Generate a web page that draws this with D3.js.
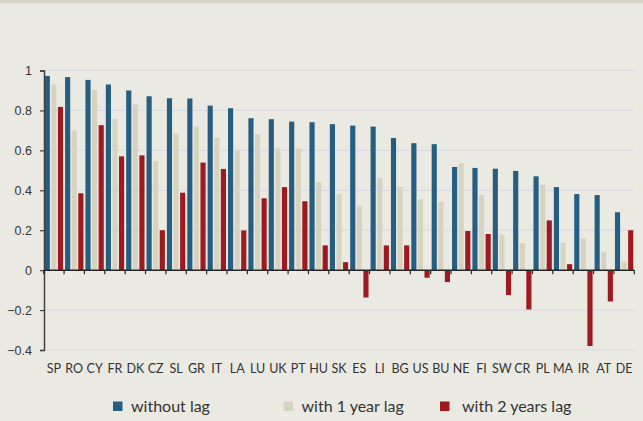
<!DOCTYPE html>
<html>
<head>
<meta charset="utf-8">
<script src="https://cdn.jsdelivr.net/npm/d3@7"></script>
<style>
    body { margin: 0; background: #ebeae2; }
    svg { display: block; font-family: Lato, "Open Sans", sans-serif; }
</style>
</head>
<body>
<svg id="chart"></svg>
<script>
const countries = ["SP", "RO", "CY", "FR", "DK", "CZ", "SL", "GR", "IT", "LA", "LU", "UK", "PT", "HU", "SK",
    "ES", "LI", "BG", "US", "BU", "NE", "FI", "SW", "CR", "PL", "MA", "IR", "AT", "DE"];

const withoutLag = [0.973, 0.967, 0.953, 0.930, 0.900, 0.871, 0.861, 0.860, 0.824, 0.811, 0.761, 0.756, 0.744, 0.741, 0.731,
    0.724, 0.719, 0.662, 0.636, 0.631, 0.517, 0.512, 0.508, 0.497, 0.470, 0.416, 0.381, 0.376, 0.290];
const oneYearLag = [0.930, 0.699, 0.903, 0.758, 0.830, 0.547, 0.684, 0.719, 0.662, 0.599, 0.681, 0.610, 0.609, 0.441, 0.383,
    0.323, 0.463, 0.418, 0.355, 0.341, 0.535, 0.376, 0.179, 0.135, 0.428, 0.137, 0.159, 0.092, 0.042];
const twoYearsLag = [0.818, 0.385, 0.726, 0.570, 0.575, 0.200, 0.388, 0.539, 0.507, 0.199, 0.360, 0.416, 0.345, 0.124, 0.040,
    -0.137, 0.124, 0.124, -0.038, -0.060, 0.196, 0.181, -0.125, -0.197, 0.249, 0.030, -0.380, -0.157, 0.200];

const seriesNames = ["without lag", "with 1 year lag", "with 2 years lag"];
const seriesColors = ["#255e82", "#d7d3c1", "#9d1b20"];
const yTicks = [-0.4, -0.2, 0, 0.2, 0.4, 0.6, 0.8, 1];

const width = 643, height = 421;

const svg = d3.select("#chart")
    .attr("width", width)
    .attr("height", height);

// background and top strip
svg.append("rect").attr("width", width).attr("height", height).attr("fill", "#ebeae2");
svg.append("rect").attr("width", width).attr("height", 3).attr("fill", "#d6d3c0");

const x0 = d3.scaleBand()
    .domain(countries)
    .range([43.7, 634.3])
    .paddingInner(0.1)
    .paddingOuter(0.05);

const x1 = d3.scaleBand()
    .domain(d3.range(3))
    .range([0, x0.bandwidth()])
    .paddingInner(0.22);

const y = d3.scaleLinear()
    .domain([-0.4, 1])
    .range([350, 70.5]);

// gridlines
svg.append("g")
    .selectAll("line")
    .data(yTicks.filter(d => d !== 0))
    .enter()
    .append("line")
    .attr("x1", 44)
    .attr("x2", 634)
    .attr("y1", d => y(d))
    .attr("y2", d => y(d))
    .attr("stroke", "#dcdbe2")
    .attr("stroke-width", 1.2);

// bars
const rows = countries.map((c, i) => ({c: c, vals: [withoutLag[i], oneYearLag[i], twoYearsLag[i]]}));

const groups = svg.append("g")
    .selectAll("g")
    .data(rows)
    .enter()
    .append("g")
    .attr("transform", d => "translate(" + x0(d.c) + ",0)");

groups.selectAll("rect")
    .data(d => d.vals.map((v, k) => ({k: k, v: v})))
    .enter()
    .append("rect")
    .attr("x", d => x1(d.k))
    .attr("width", x1.bandwidth())
    .attr("y", d => y(Math.max(0, d.v)))
    .attr("height", d => Math.abs(y(d.v) - y(0)))
    .attr("fill", d => seriesColors[d.k]);

// y axis
const yAxis = svg.append("g")
    .attr("transform", "translate(44,0)")
    .call(d3.axisLeft(y).tickValues(yTicks).tickSize(4).tickPadding(8)
        .tickFormat(d => d3.format("")(+d.toFixed(1))));
yAxis.select(".domain").attr("stroke", "#404040").attr("stroke-width", 1.5);
yAxis.selectAll(".tick line").attr("stroke", "#404040").attr("stroke-width", 1.2);
yAxis.selectAll("text").attr("fill", "#333").style("font-size", "12.5px");

// x axis at zero
const xAxis = svg.append("g")
    .attr("transform", "translate(0," + y(0) + ")");
xAxis.append("line")
    .attr("x1", 43.7).attr("x2", 634.3)
    .attr("stroke", "#262626").attr("stroke-width", 1.5);
xAxis.selectAll(".xt")
    .data(countries.concat(["end"]))
    .enter()
    .append("line")
    .attr("class", "xt")
    .attr("x1", (d, i) => i < countries.length ? x0(d) - x0.step() * x0.paddingInner() / 2 : x0.range()[1])
    .attr("x2", (d, i) => i < countries.length ? x0(d) - x0.step() * x0.paddingInner() / 2 : x0.range()[1])
    .attr("y1", 0).attr("y2", 4)
    .attr("stroke", "#262626").attr("stroke-width", 1.2);

// category labels
svg.append("g")
    .selectAll("text")
    .data(countries)
    .enter()
    .append("text")
    .attr("x", d => x0(d) + x0.bandwidth() / 2)
    .attr("y", 372.5)
    .attr("text-anchor", "middle")
    .attr("fill", "#333")
    .style("font-size", "12.5px")
    .text(d => d);

// legend
const legendX = [113, 283.5, 440];
const legend = svg.append("g")
    .selectAll("g")
    .data(seriesNames)
    .enter()
    .append("g")
    .attr("transform", (d, i) => "translate(" + legendX[i] + ",401.5)");
legend.append("rect")
    .attr("width", 9.5).attr("height", 9.5)
    .attr("fill", (d, i) => seriesColors[i]);
legend.append("text")
    .attr("x", (d, i) => i === 2 ? 22 : 18)
    .attr("y", 10.5)
    .attr("fill", "#333")
    .style("font-size", "16px")
    .text(d => d);
</script>
</body>
</html>
